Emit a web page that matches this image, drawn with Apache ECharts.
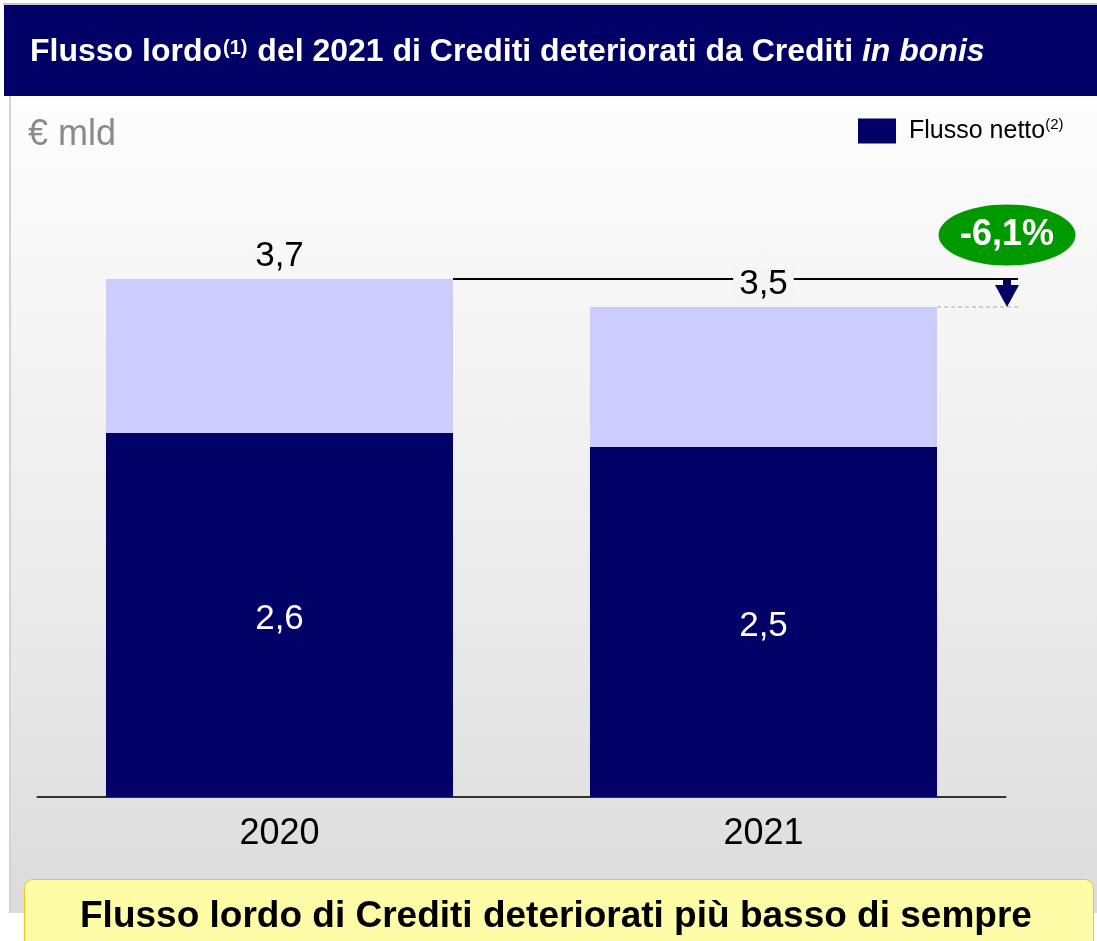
<!DOCTYPE html>
<html>
<head>
<meta charset="utf-8">
<script src="https://cdn.jsdelivr.net/npm/echarts@6/dist/echarts.min.js"></script>
<style>
  html, body { margin: 0; padding: 0; background: #ffffff; }
  #wrap { position: relative; width: 1097px; height: 941px; overflow: hidden; }
  #topline { position: absolute; left: 3px; top: 3px; width: 1094px; height: 2px; background: #c8c8d0; }
  #titlebar { position: absolute; left: 4px; top: 5px; width: 1093px; height: 91px; background: #000066; }
  #content { position: absolute; left: 9px; top: 96px; width: 1088px; height: 817px;
             background: linear-gradient(to bottom, #fdfdfd 0%, #f3f3f3 35%, #e6e6e6 75%, #dbdbdb 100%);
             border-left: 2px solid #d4d4d4; box-sizing: border-box; }
  #note { position: absolute; left: 24px; top: 879px; width: 1070px; height: 80px; background: #fffca8;
          border: 1.5px solid #f2c41c; border-radius: 9px; box-sizing: border-box; }
  #chart { position: absolute; left: 0; top: 0; width: 1097px; height: 941px; }
</style>
</head>
<body>
<div id="wrap">
  <div id="topline"></div>
  <div id="titlebar"></div>
  <div id="content"></div>
  <div id="note"></div>
  <div id="chart"></div>
</div>
<script>
// ---- data ----
const categories = ['2020', '2021'];
const grossFlow = [3.7, 3.5];      // Flusso lordo (total bar)
const netFlow = [2.6, 2.5];        // Flusso netto (dark part)
const changeLabel = '-6,1%';
const unitLabel = '€ mld';
const legendName = 'Flusso netto';

const FONT = '"Liberation Sans", Arial, Helvetica, sans-serif';
const fmt = v => String(v).replace('.', ',');

const chart = echarts.init(document.getElementById('chart'), null, { renderer: 'canvas' });

const option = {
  backgroundColor: 'transparent',
  animation: false,
  textStyle: { fontFamily: FONT },
  title: [
    {
      left: 25, top: 27,
      text: '{a|Flusso lordo}{s|(1)}{a| del 2021 di Crediti deteriorati da Crediti }{i|in bonis}',
      textStyle: {
        rich: {
          a: { fontFamily: FONT, fontWeight: 'bold', fontSize: 32, color: '#ffffff', lineHeight: 40 },
          s: { fontFamily: FONT, fontWeight: 'bold', fontSize: 20, color: '#ffffff', lineHeight: 22, verticalAlign: 'middle', padding: [0, 1, 8, 1] },
          i: { fontFamily: FONT, fontWeight: 'bold', fontStyle: 'italic', fontSize: 32, color: '#ffffff', lineHeight: 40 }
        }
      }
    },
    {
      left: 23, top: 112,
      text: unitLabel,
      textStyle: { fontFamily: FONT, fontWeight: 'normal', fontSize: 36, color: '#8a8a8a' }
    },
    {
      left: 75, top: 893,
      text: 'Flusso lordo di Crediti deteriorati più basso di sempre',
      textStyle: { fontFamily: FONT, fontWeight: 'bold', fontSize: 37, color: '#000000' }
    }
  ],
  legend: {
    data: [legendName],
    left: 853, top: 112,
    itemWidth: 38, itemHeight: 25,
    icon: 'rect',
    formatter: '{a|Flusso netto}{s|(2)}',
    textStyle: {
      rich: {
        a: { fontFamily: FONT, fontSize: 25, color: '#000000', padding: [0, 0, 0, 8], lineHeight: 28 },
        s: { fontFamily: FONT, fontSize: 15, color: '#000000', verticalAlign: 'top', lineHeight: 24 }
      }
    }
  },
  grid: { left: 37.5, right: 91.5, top: 237, bottom: 144, containLabel: false },
  xAxis: {
    type: 'category',
    data: categories,
    axisLine: { lineStyle: { color: '#333333', width: 2 } },
    axisTick: { show: false },
    axisLabel: { fontFamily: FONT, fontSize: 36, color: '#000000', margin: 19 }
  },
  yAxis: {
    type: 'value', min: 0, max: 4, show: false,
    splitLine: { show: false }
  },
  series: [
    {
      name: 'Flusso lordo',
      type: 'bar',
      data: grossFlow.map((v, i) => i === 1
        ? { value: v, label: { backgroundColor: '#f5f5f5', padding: [0, 6, 0, 6] } }
        : v),
      barWidth: '71.7%',
      barGap: '-100%',
      z: 5,
      itemStyle: { color: '#ccccff' },
      label: {
        show: true, position: 'top', distance: 5,
        formatter: p => fmt(p.value),
        fontFamily: FONT, fontSize: 35, color: '#000000'
      }
    },
    {
      name: legendName,
      type: 'bar',
      data: netFlow,
      barWidth: '71.7%',
      z: 6,
      itemStyle: { color: '#000066' },
      label: {
        show: true, position: 'inside', offset: [0, 4],
        formatter: p => fmt(p.value),
        fontFamily: FONT, fontSize: 35, color: '#ffffff'
      }
    }
  ]
};

chart.setOption(option);

// ---- annotation derived from the chart's scales ----
function annotate() {
  const data0 = chart.getModel().getSeriesByIndex(0).getData();
  const l0 = data0.getItemLayout(0);
  const l1 = data0.getItemLayout(1);
  const bar0Right = l0.x + l0.width;
  const bar1Right = l1.x + l1.width;
  const yTop0 = chart.convertToPixel({ seriesIndex: 0 }, [0, grossFlow[0]])[1];
  const yTop1 = chart.convertToPixel({ seriesIndex: 0 }, [1, grossFlow[1]])[1];
  const xEnd = bar1Right + 81;
  const xArrow = bar1Right + 70;
  const headH = 22, headW = 24, stemW = 8;

  chart.setOption({
    graphic: [
      {
        type: 'line', z: 1,
        shape: { x1: bar0Right, y1: yTop0, x2: xEnd, y2: yTop0 },
        style: { stroke: '#000000', lineWidth: 2 }
      },
      {
        type: 'line', z: 1,
        shape: { x1: bar1Right, y1: yTop1, x2: xEnd, y2: yTop1 },
        style: { stroke: '#a8a8a8', lineWidth: 1.2, lineDash: [4, 3] }
      },
      {
        type: 'rect', z: 10,
        shape: { x: xArrow - stemW / 2, y: yTop0, width: stemW, height: (yTop1 - yTop0) - headH + 1 },
        style: { fill: '#000066' }
      },
      {
        type: 'polygon', z: 10,
        shape: { points: [[xArrow - headW / 2, yTop1 - headH], [xArrow + headW / 2, yTop1 - headH], [xArrow, yTop1]] },
        style: { fill: '#000066' }
      },
      {
        type: 'ellipse', z: 10,
        shape: { cx: xArrow, cy: yTop0 - 44, rx: 68.5, ry: 30.5 },
        style: { fill: '#009900' }
      },
      {
        type: 'text', z: 11,
        x: xArrow, y: yTop0 - 44,
        style: {
          text: changeLabel, fill: '#ffffff',
          font: 'bold 36px ' + FONT,
          align: 'center', verticalAlign: 'middle'
        }
      }
    ]
  });
}
annotate();
</script>
</body>
</html>
